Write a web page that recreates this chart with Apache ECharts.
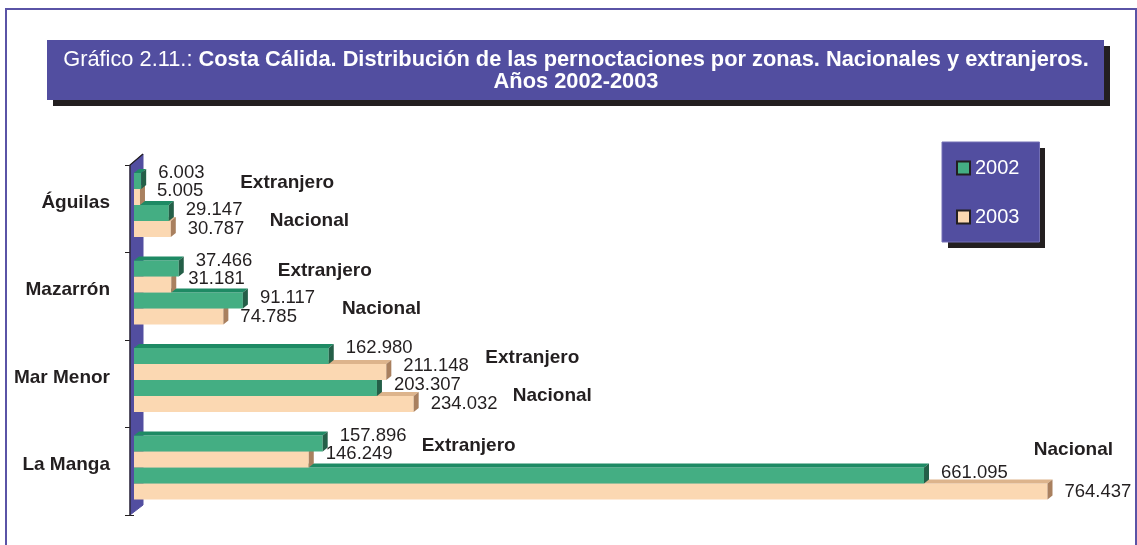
<!DOCTYPE html>
<html>
<head>
<meta charset="utf-8">
<title>Costa Cálida - pernoctaciones por zonas</title>
<script src="https://cdn.jsdelivr.net/npm/echarts@6/dist/echarts.min.js"></script>
<style>
  html, body { margin: 0; padding: 0; background: #fff; }
  #chart { width: 1137px; height: 545px; }
</style>
</head>
<body>
<div id="chart"></div>
<script>
// datos (pernoctaciones)
var zonas = ['Águilas', 'Mazarrón', 'Mar Menor', 'La Manga'];
var grupos = ['Extranjero', 'Nacional'];
var anios = ['2002', '2003'];
var extranjero2002 = [6003, 37466, 162980, 157896];
var extranjero2003 = [5005, 31181, 211148, 146249];
var nacional2002 = [29147, 91117, 203307, 661095];
var nacional2003 = [30787, 74785, 234032, 764437];

var FONT = "'Liberation Sans', Arial, Helvetica, sans-serif";
var INK = '#231F20';
var PURPLE = '#524EA0';
// colores de cada año: frente, cara superior, lateral
var colores = [
    {front: '#44AE83', top: '#1E8A64', side: '#245F48'},
    {front: '#FBD8B2', top: '#DDB48C', side: '#A9805F'}
];
var BAR_H = 16, BAR_PAD = 8, DX = 5, DY = 4;
var labelLift = [-8, -6, -3, 0]; // por posición de barra dentro de la zona

function fmt(n) {
    return String(n).replace(/\B(?=(\d{3})+(?!\d))/g, '.');
}

function barTop(api, cat, slot) {
    var c = api.coord([0, cat]);
    var band = api.size([0, 1])[1];
    return c[1] - band / 2 + BAR_PAD + slot * BAR_H;
}

//barras 3D de un año
function makeBars(yearIdx) {
    return function (params, api) {
        var v = api.value(0), cat = api.value(1), kind = api.value(2);
        var slot = kind * 2 + yearIdx;
        var x0 = api.coord([0, cat])[0];
        var x1 = api.coord([v, cat])[0];
        var top = barTop(api, cat, slot);
        var col = colores[yearIdx];
        var z = (4 - slot) * 10;
        return {
            type: 'group',
            children: [
                {type: 'rect', z2: z, shape: {x: x0, y: top, width: x1 - x0, height: BAR_H}, style: {fill: col.front}},
                {type: 'polygon', z2: z, shape: {points: [[x0, top], [x0 + DX, top - DY], [x1 + DX, top - DY], [x1, top]]}, style: {fill: col.top}},
                {type: 'polygon', z2: z, shape: {points: [[x1, top], [x1 + DX, top - DY], [x1 + DX, top + BAR_H - DY], [x1, top + BAR_H]]}, style: {fill: col.side}},
                {type: 'text', z2: 200, style: {
                    text: fmt(v), x: x1 + DX + 12, y: top + BAR_H / 2 + labelLift[slot],
                    textVerticalAlign: 'middle', font: '18.5px ' + FONT, fill: INK
                }}
            ]
        };
    };
}

function yearData(a, b) {
    var out = [];
    zonas.forEach(function (z, i) { out.push([a[i], i, 0]); });
    zonas.forEach(function (z, i) { out.push([b[i], i, 1]); });
    return out;
}

var grupoData = [];
zonas.forEach(function (z, i) {
    grupoData.push([Math.max(extranjero2002[i], extranjero2003[i]), i, 0]);
    grupoData.push([Math.max(nacional2002[i], nacional2003[i]), i, 1]);
});

var chart = echarts.init(document.getElementById('chart'));
var option = {
    animation: false,
    backgroundColor: '#fff',
    textStyle: {fontFamily: FONT},
    grid: {left: 134, top: 165, width: 956, height: 350},
    xAxis: {type: 'value', min: 0, max: 800000, show: false},
    yAxis: {
        type: 'category',
        data: zonas,
        inverse: true,
        axisLine: {show: false},
        axisTick: {show: true, length: 9, lineStyle: {color: INK, width: 1}},
        axisLabel: {fontSize: 19, fontWeight: 'bold', color: INK, fontFamily: FONT, margin: 24,
            verticalAlign: 'bottom', lineHeight: 12}
    },
    legend: {
        data: anios,
        orient: 'vertical',
        left: 942, top: 142,
        padding: [16, 20, 15, 14],
        itemGap: 29,
        itemWidth: 13, itemHeight: 13,
        icon: 'rect',
        itemStyle: {borderColor: INK, borderWidth: 2},
        backgroundColor: PURPLE,
        borderColor: '#7470B6', borderWidth: 1,
        textStyle: {color: '#fff', fontSize: 20, fontFamily: FONT},
        selectedMode: false
    },
    graphic: [
        {type: 'rect', z: 0, shape: {x: 6, y: 9, width: 1130, height: 560}, style: {fill: 'none', stroke: '#5A53A6', lineWidth: 2}},
        {type: 'rect', z: 0, shape: {x: 53, y: 46, width: 1057, height: 60}, style: {fill: INK}},
        {type: 'rect', z: 1, shape: {x: 47, y: 40, width: 1057, height: 60}, style: {fill: PURPLE}},
        {type: 'text', z: 2, style: {
            x: 576, y: 60, textAlign: 'center', textVerticalAlign: 'middle', fill: '#fff',
            font: '21.8px ' + FONT,
            text: '{n|Gráfico 2.11.: }{b|Costa Cálida. Distribución de las pernoctaciones por zonas. Nacionales y extranjeros.}',
            rich: {
                n: {fontSize: 21.8, fontFamily: FONT, fill: '#fff', color: '#fff'},
                b: {fontSize: 21.8, fontFamily: FONT, fontWeight: 'bold', fill: '#fff', color: '#fff'}
            }
        }},
        {type: 'text', z: 2, style: {
            x: 576, y: 82, textAlign: 'center', textVerticalAlign: 'middle', fill: '#fff',
            font: 'bold 21.8px ' + FONT, text: 'Años 2002-2003'
        }},
        // sombra de la leyenda
        {type: 'rect', z: 0, shape: {x: 948, y: 148, width: 97, height: 100}, style: {fill: INK}}
    ],
    series: [
        {
            // pared del eje
            type: 'custom', name: 'pared', z: 1, clip: false, silent: true,
            data: [[0, 0]],
            renderItem: function (params, api) {
                var cs = params.coordSys;
                var l = cs.x - 4, r = cs.x + 9, t = cs.y, b = cs.y + cs.height;
                return {
                    type: 'group',
                    children: [
                        {type: 'polygon', shape: {points: [[l, t], [r, t - 11], [r, b - 10], [l, b]]}, style: {fill: PURPLE, stroke: PURPLE}},
                        {type: 'polyline', shape: {points: [[l, b], [l, t], [r, t - 11]]}, style: {fill: null, stroke: INK, lineWidth: 1.2}}
                    ]
                };
            }
        },
        {
            type: 'custom', name: anios[0], clip: false,
            itemStyle: {color: colores[0].front},
            data: yearData(extranjero2002, nacional2002),
            renderItem: makeBars(0)
        },
        {
            type: 'custom', name: anios[1], clip: false,
            itemStyle: {color: colores[1].front},
            data: yearData(extranjero2003, nacional2003),
            renderItem: makeBars(1)
        },
        {
            // rótulos Extranjero / Nacional
            type: 'custom', name: 'grupos', clip: false, silent: true,
            data: grupoData,
            renderItem: function (params, api) {
                var v = api.value(0), cat = api.value(1), kind = api.value(2);
                var top = barTop(api, cat, kind * 2);
                var x = api.coord([v, cat])[0] + DX + 94;
                var y = top + BAR_H + (kind === 0 ? -6 : 0);
                var align = 'left';
                if (x > api.getWidth() - 110) {
                    // no cabe a la derecha: se coloca encima
                    x = api.getWidth() - 24;
                    y = top - 18;
                    align = 'right';
                }
                return {
                    type: 'text', z2: 200,
                    style: {text: grupos[kind], x: x, y: y, textAlign: align, textVerticalAlign: 'middle',
                        font: 'bold 19px ' + FONT, fill: INK}
                };
            }
        }
    ]
};
chart.setOption(option);
</script>
</body>
</html>
